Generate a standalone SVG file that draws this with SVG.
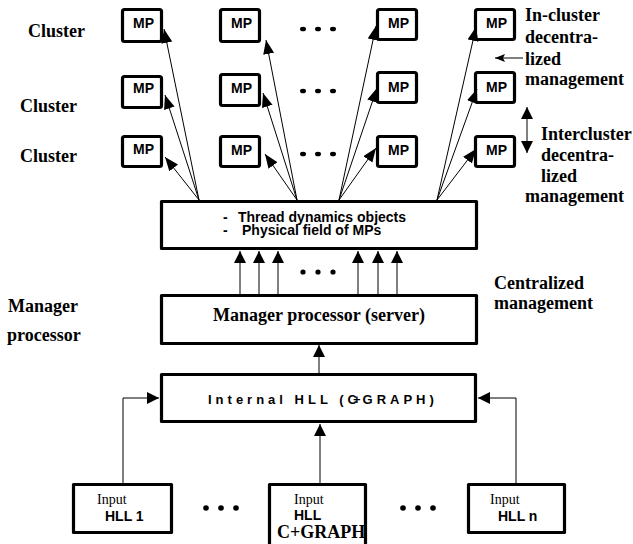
<svg xmlns="http://www.w3.org/2000/svg" width="633" height="544" viewBox="0 0 633 544">
<style>
.box{fill:#fff;stroke:#000;stroke-width:3.2;stroke-linejoin:round}
.mp{font-family:"Liberation Sans",Arial,sans-serif;font-weight:bold;font-size:14px;fill:#000}
.lbl{font-family:"Liberation Serif","Times New Roman",serif;font-weight:bold;font-size:18px;fill:#000}
.sans{font-family:"Liberation Sans",Arial,sans-serif;font-weight:bold;fill:#000}
.inp{font-family:"Liberation Serif","Times New Roman",serif;font-size:14px;fill:#000}
.ln{fill:none;stroke:#000;stroke-width:1}
.fan{marker-end:url(#ah)}
.up{marker-end:url(#ah2)}
.dot{fill:#000}
</style>
<defs>
<marker id="ah" markerUnits="userSpaceOnUse" markerWidth="15" markerHeight="12" refX="14" refY="5.5" orient="auto"><path d="M0,0 L14,5.5 L0,11 z" fill="#000"/></marker>
<marker id="ah2" markerUnits="userSpaceOnUse" markerWidth="13" markerHeight="12" refX="12" refY="6" orient="auto"><path d="M0,0 L12,6 L0,12 z" fill="#000"/></marker>
<marker id="ahs" markerUnits="userSpaceOnUse" markerWidth="10" markerHeight="8" refX="10" refY="4" orient="auto"><path d="M0,0 L10,4 L0,8 L2,4 z" fill="#000"/></marker>
</defs>

<!-- side labels -->
<g id="labels">
<text class="lbl" x="28" y="37">Cluster</text>
<text class="lbl" x="20" y="112">Cluster</text>
<text class="lbl" x="20" y="162">Cluster</text>
<text class="lbl" x="8" y="312">Manager</text>
<text class="lbl" x="7" y="341">processor</text>
<text class="lbl" x="494" y="289">Centralized</text>
<text class="lbl" x="494" y="309">management</text>
<text class="lbl" x="525" y="21">In-cluster</text>
<text class="lbl" x="525" y="43">decentra-</text>
<text class="lbl" x="525" y="65">lized</text>
<text class="lbl" x="525" y="85">management</text>
<text class="lbl" x="541" y="140">Intercluster</text>
<text class="lbl" x="541" y="161">decentra-</text>
<text class="lbl" x="541" y="182">lized</text>
<text class="lbl" x="525" y="202">management</text>
</g>

<!-- MP nodes -->
<g id="mp-r1c1"><rect class="box" x="122.5" y="9.5" width="39" height="32" rx="2"/><text class="mp" x="133" y="28">MP</text></g>
<g id="mp-r1c2"><rect class="box" x="220.5" y="9.5" width="39" height="32" rx="2"/><text class="mp" x="231" y="28">MP</text></g>
<g id="mp-r1c3"><rect class="box" x="377.5" y="9.5" width="39" height="30" rx="2"/><text class="mp" x="388" y="28">MP</text></g>
<g id="mp-r1c4"><rect class="box" x="475.5" y="9.5" width="39" height="30" rx="2"/><text class="mp" x="486" y="28">MP</text></g>
<g id="mp-r2c1"><rect class="box" x="122.5" y="76.5" width="39" height="31" rx="2"/><text class="mp" x="133" y="93">MP</text></g>
<g id="mp-r2c2"><rect class="box" x="220.5" y="74.5" width="39" height="31" rx="2"/><text class="mp" x="231" y="93">MP</text></g>
<g id="mp-r2c3"><rect class="box" x="377.5" y="72.5" width="39" height="30" rx="2"/><text class="mp" x="388" y="92">MP</text></g>
<g id="mp-r2c4"><rect class="box" x="475.5" y="72.5" width="39" height="30" rx="2"/><text class="mp" x="486" y="92">MP</text></g>
<g id="mp-r3c1"><rect class="box" x="122.5" y="136.5" width="39" height="30" rx="2"/><text class="mp" x="133" y="154">MP</text></g>
<g id="mp-r3c2"><rect class="box" x="220.5" y="136.5" width="39" height="30" rx="2"/><text class="mp" x="231" y="155">MP</text></g>
<g id="mp-r3c3"><rect class="box" x="377.5" y="136.5" width="39" height="30" rx="2"/><text class="mp" x="388" y="155">MP</text></g>
<g id="mp-r3c4"><rect class="box" x="475.5" y="136.5" width="39" height="30" rx="2"/><text class="mp" x="486" y="155">MP</text></g>

<!-- dots -->
<g id="dots">
<ellipse class="dot" cx="303" cy="29" rx="3" ry="2.3"/><ellipse class="dot" cx="318" cy="29" rx="3" ry="2.3"/><ellipse class="dot" cx="333" cy="29" rx="3" ry="2.3"/>
<ellipse class="dot" cx="303" cy="91" rx="3" ry="2.3"/><ellipse class="dot" cx="318" cy="91" rx="3" ry="2.3"/><ellipse class="dot" cx="333" cy="91" rx="3" ry="2.3"/>
<ellipse class="dot" cx="303" cy="154" rx="3" ry="2.3"/><ellipse class="dot" cx="318" cy="154" rx="3" ry="2.3"/><ellipse class="dot" cx="333" cy="154" rx="3" ry="2.3"/>
<circle class="dot" cx="303" cy="272" r="2.6"/><circle class="dot" cx="318" cy="272" r="2.6"/><circle class="dot" cx="333" cy="272" r="2.6"/>
<circle class="dot" cx="206" cy="508" r="2.8"/><circle class="dot" cx="221" cy="508" r="2.8"/><circle class="dot" cx="236" cy="508" r="2.8"/>
<circle class="dot" cx="403" cy="508" r="2.8"/><circle class="dot" cx="418" cy="508" r="2.8"/><circle class="dot" cx="433" cy="508" r="2.8"/>
</g>

<!-- big nodes -->
<g id="thread"><rect class="box" x="161.5" y="201.5" width="315" height="47"/>
<text class="sans" font-size="14"><tspan x="223" y="222">-</tspan><tspan x="238" y="222">Thread dynamics objects</tspan><tspan x="223" y="234.5">-</tspan><tspan x="242" y="234.5">Physical field of MPs</tspan></text></g>
<g id="manager"><rect class="box" x="161.5" y="295.5" width="315" height="48"/>
<text class="lbl" x="319" y="321" text-anchor="middle">Manager processor (server)</text></g>
<g id="internal"><rect class="box" x="161.5" y="374.5" width="314" height="47"/>
<text class="sans" font-size="13" x="208" y="404" letter-spacing="4">Internal HLL (C<tspan dx="-8">+</tspan><tspan dx="-2">GRAPH)</tspan></text></g>
<g id="input1"><rect class="box" x="73.5" y="484.5" width="98" height="48"/>
<text class="inp" x="97" y="504">Input</text><text class="sans" font-size="14" x="105" y="521">HLL 1</text></g>
<g id="input-c"><rect class="box" x="269.5" y="484.5" width="96" height="80"/>
<text class="inp" x="294" y="504">Input</text><text class="sans" font-size="14" x="294" y="520">HLL</text>
<text class="lbl" x="277" y="538">C+GRAPH</text></g>
<g id="inputn"><rect class="box" x="468.5" y="484.5" width="96" height="48"/>
<text class="inp" x="490" y="504">Input</text><text class="sans" font-size="14" x="498" y="521">HLL n</text></g>

<!-- connectors -->
<g id="connectors">
<line class="ln fan" x1="199" y1="200" x2="164" y2="29"/>
<line class="ln fan" x1="199" y1="200" x2="165" y2="95"/>
<line class="ln fan" x1="199" y1="200" x2="165" y2="157"/>
<line class="ln fan" x1="297" y1="200" x2="266" y2="40"/>
<line class="ln fan" x1="297" y1="200" x2="263" y2="93"/>
<line class="ln fan" x1="297" y1="200" x2="265" y2="154"/>
<line class="ln fan" x1="339" y1="200" x2="376" y2="26"/>
<line class="ln fan" x1="339" y1="200" x2="377" y2="88"/>
<line class="ln fan" x1="339" y1="200" x2="376" y2="148"/>
<line class="ln fan" x1="437" y1="200" x2="476" y2="27"/>
<line class="ln fan" x1="437" y1="200" x2="477" y2="89"/>
<line class="ln fan" x1="437" y1="200" x2="476" y2="149"/>
<line class="ln up" x1="240" y1="294" x2="240" y2="251"/>
<line class="ln up" x1="259" y1="294" x2="259" y2="251"/>
<line class="ln up" x1="278" y1="294" x2="278" y2="251"/>
<line class="ln up" x1="358" y1="294" x2="358" y2="251"/>
<line class="ln up" x1="378" y1="294" x2="378" y2="251"/>
<line class="ln up" x1="397" y1="294" x2="397" y2="251"/>
<line class="ln up" x1="319" y1="373" x2="319" y2="345"/>
<line class="ln up" x1="320" y1="483" x2="320" y2="424"/>
<polyline class="ln up" points="123,483 123,398 159,398"/>
<polyline class="ln up" points="516,483 516,398 478,398"/>
<line class="ln" x1="523" y1="58" x2="495" y2="58" marker-end="url(#ahs)"/>
<line class="ln up" x1="527" y1="130" x2="527" y2="107"/>
<line class="ln up" x1="527" y1="130" x2="527" y2="153"/>
</g>
</svg>
